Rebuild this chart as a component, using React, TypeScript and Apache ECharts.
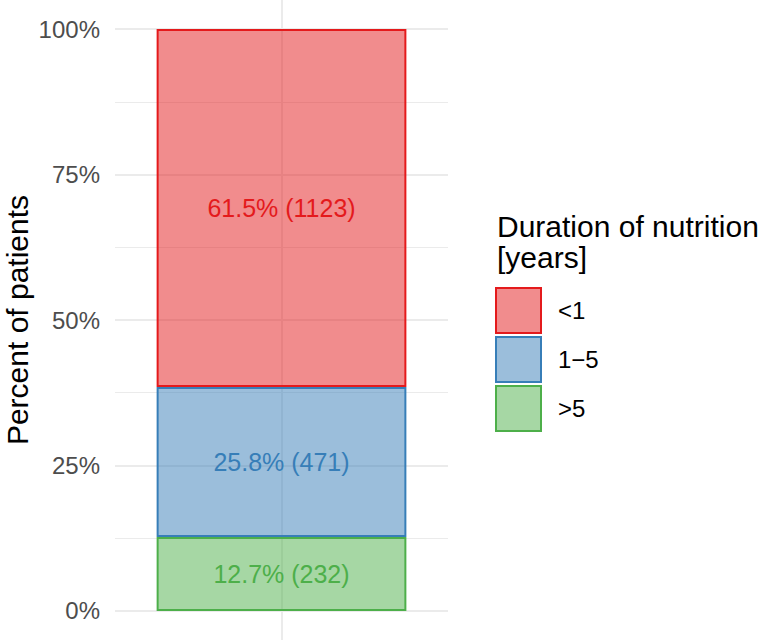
import React, { useEffect, useRef } from "react";
import * as echarts from "echarts";

const categories = ["All patients"];
const groupNames = ["<1", "1\u22125", ">5"];
const percents = [61.5, 25.8, 12.7];
const counts = [1123, 471, 232];
const baseColors = ["#E41A1C", "#377EB8", "#4DAF4A"];
const fillColors = ["rgba(228,26,28,0.5)", "rgba(55,126,184,0.5)", "rgba(77,175,74,0.5)"];
const yTickValues = [0, 25, 50, 75, 100];
const majorGrid = [0, 25, 50, 75, 100];
const minorGrid = [12.5, 37.5, 62.5, 87.5];
const legendTitleLines = ["Duration of nutrition", "[years]"];

const FONT = "'Liberation Sans', Arial, Helvetica, sans-serif";

export default function App() {
  const ref = useRef<HTMLDivElement>(null);
  useEffect(() => {
    if (!ref.current) return;
    const chart = echarts.init(ref.current, null, { renderer: "svg" });
    // stacking order: bottom first
    const order = [2, 1, 0];
    const barSeries = order.map((i) => ({
      type: "bar",
      name: groupNames[i],
      stack: "total",
      barWidth: "75%",
      z: 3,
      data: [percents[i]],
      itemStyle: { color: fillColors[i], borderColor: baseColors[i], borderWidth: 2 },
      label: {
        show: true,
        position: "inside",
        formatter: () => `${percents[i]}% (${counts[i]})`,
        color: baseColors[i],
        fontSize: 25,
        fontFamily: FONT,
      },
      emphasis: { disabled: true },
    }));
    const gridSeries = {
      type: "line",
      name: "grid",
      data: [],
      z: 0,
      silent: true,
      markLine: {
        silent: true,
        z: 0,
        symbol: "none",
        animation: false,
        label: { show: false },
        emphasis: { disabled: true },
        data: [
          ...majorGrid.map((v) => ({ yAxis: v, lineStyle: { color: "#ebebeb", width: 2, type: "solid" } })),
          ...minorGrid.map((v) => ({ yAxis: v, lineStyle: { color: "#ebebeb", width: 1, type: "solid" } })),
          { xAxis: categories[0], lineStyle: { color: "#ebebeb", width: 2, type: "solid" } },
        ],
      },
    };
    chart.setOption({
      animation: false,
      textStyle: { fontFamily: FONT },
      grid: { left: 115, right: 315, top: 0, bottom: 1, containLabel: false, outerBoundsMode: "none" },
      xAxis: {
        type: "category",
        data: categories,
        axisLine: { show: false },
        axisTick: { show: false },
        axisLabel: { show: false },
        splitLine: { show: false },
      },
      yAxis: {
        type: "value",
        min: -5,
        max: 105,
        axisLine: { show: false },
        axisTick: { show: false },
        splitLine: { show: false },
        axisLabel: {
          customValues: yTickValues,
          formatter: (v: number) => `${v}%`,
          color: "#4d4d4d",
          fontSize: 24,
          margin: 15,
          fontFamily: FONT,
        },
        name: "Percent of patients",
        nameLocation: "middle",
        nameGap: 83,
        nameTextStyle: { color: "#000", fontSize: 30, lineHeight: 30, fontFamily: FONT },
      },
      legend: {
        orient: "vertical",
        left: 495,
        top: 287,
        padding: 0,
        itemWidth: 45,
        itemHeight: 45,
        itemGap: 2,
        icon: "rect",
        data: groupNames,
        selectedMode: false,
        itemStyle: { borderWidth: 2 },
        textStyle: { fontSize: 24, color: "#000", fontFamily: FONT, padding: [0, 0, 0, 12] },
      },
      graphic: legendTitleLines.map((t, k) => ({
        type: "text",
        left: 497,
        top: 211 + k * 31,
        style: {
          text: t,
          fontSize: 30,
          lineHeight: 30,
          fill: "#000",
          fontFamily: FONT,
        },
      })),
      series: [gridSeries, ...barSeries],
    });
    return () => chart.dispose();
  }, []);
  return (
    <div
      ref={ref}
      style={{ position: "fixed", left: 0, top: 0, width: 763, height: 641, background: "#fff" }}
    />
  );
}
